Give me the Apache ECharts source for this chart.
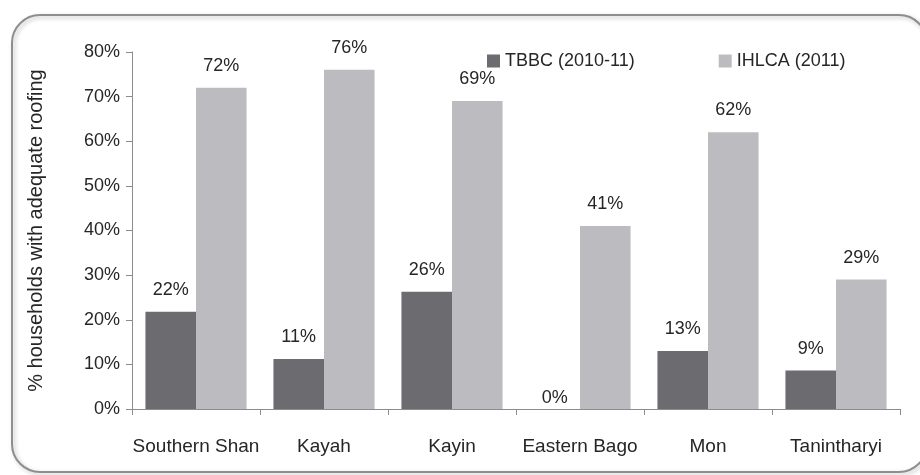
<!DOCTYPE html>
<html>
<head>
<meta charset="utf-8">
<script src="https://cdn.jsdelivr.net/npm/echarts@6/dist/echarts.min.js"></script>
<style>
  html, body { margin: 0; padding: 0; background: #fff; }
  #chart { width: 920px; height: 475px; }
</style>
</head>
<body>
<div id="chart"></div>
<script>
const regions = ['Southern Shan', 'Kayah', 'Kayin', 'Eastern Bago', 'Mon', 'Tanintharyi']
const tbbc = [21.8, 11.2, 26.3, 0, 13.0, 8.6]
const ihlca = [72, 76, 69, 41, 62, 29]
const seriesNames = ['TBBC (2010-11)', 'IHLCA (2011)']

const font = 'Liberation Sans'
const textColor = '#262626'
const axisColor = '#8c8c8c'

// label for bars, the zero bar sits a bit lower like in excel
const toData = (arr) => arr.map(v => ({
  value: v,
  label: v === 0 ? { distance: 2 } : undefined
}))

const labelStyle = {
  show: true,
  position: 'top',
  distance: 13,
  fontFamily: font,
  fontSize: 18,
  color: textColor,
  formatter: (p) => Math.round(p.value) + '%'
}

const myChart = echarts.init(document.getElementById('chart'))
const option = {
  animation: false,
  textStyle: { fontFamily: font },
  graphic: [
    {
      type: 'rect',
      shape: { x: 12, y: 15, width: 915, height: 457, r: 28 },
      style: {
        fill: 'none',
        stroke: '#8e8e8e',
        lineWidth: 2,
        shadowColor: 'rgba(0,0,0,0.25)',
        shadowBlur: 4,
        shadowOffsetX: 2,
        shadowOffsetY: 2
      },
      z: -10
    }
  ],
  legend: {
    data: seriesNames,
    left: 482,
    top: 47,
    itemWidth: 13,
    itemHeight: 13,
    itemGap: 84,
    icon: 'rect',
    textStyle: { fontFamily: font, fontSize: 18, color: textColor, padding: [0, 0, 0, 0] }
  },
  grid: {
    left: 132,
    right: 20,
    top: 52,
    bottom: 66,
    containLabel: false
  },
  xAxis: {
    type: 'category',
    data: regions,
    axisLine: { lineStyle: { color: axisColor, width: 1 } },
    axisTick: { show: true, length: 6, lineStyle: { color: axisColor } },
    axisLabel: { interval: 0, fontFamily: font, fontSize: 19, color: textColor, margin: 28 }
  },
  yAxis: {
    type: 'value',
    min: 0,
    max: 80,
    interval: 10,
    name: '% households with adequate roofing',
    nameLocation: 'middle',
    nameRotate: 90,
    nameGap: 86,
    nameTextStyle: { fontFamily: font, fontSize: 20, color: textColor },
    axisLine: { show: true, lineStyle: { color: axisColor, width: 1 } },
    axisTick: { show: true, length: 6, lineStyle: { color: axisColor } },
    splitLine: { show: false },
    axisLabel: {
      fontFamily: font,
      fontSize: 18,
      color: textColor,
      margin: 12,
      formatter: '{value}%'
    }
  },
  series: [
    {
      name: seriesNames[0],
      type: 'bar',
      data: toData(tbbc),
      itemStyle: { color: '#6b6b70' },
      barGap: '0%',
      barCategoryGap: '21%',
      label: labelStyle
    },
    {
      name: seriesNames[1],
      type: 'bar',
      data: toData(ihlca),
      itemStyle: { color: '#bcbcc0' },
      barGap: '0%',
      barCategoryGap: '21%',
      label: labelStyle
    }
  ]
}
option && myChart.setOption(option)
</script>
</body>
</html>
